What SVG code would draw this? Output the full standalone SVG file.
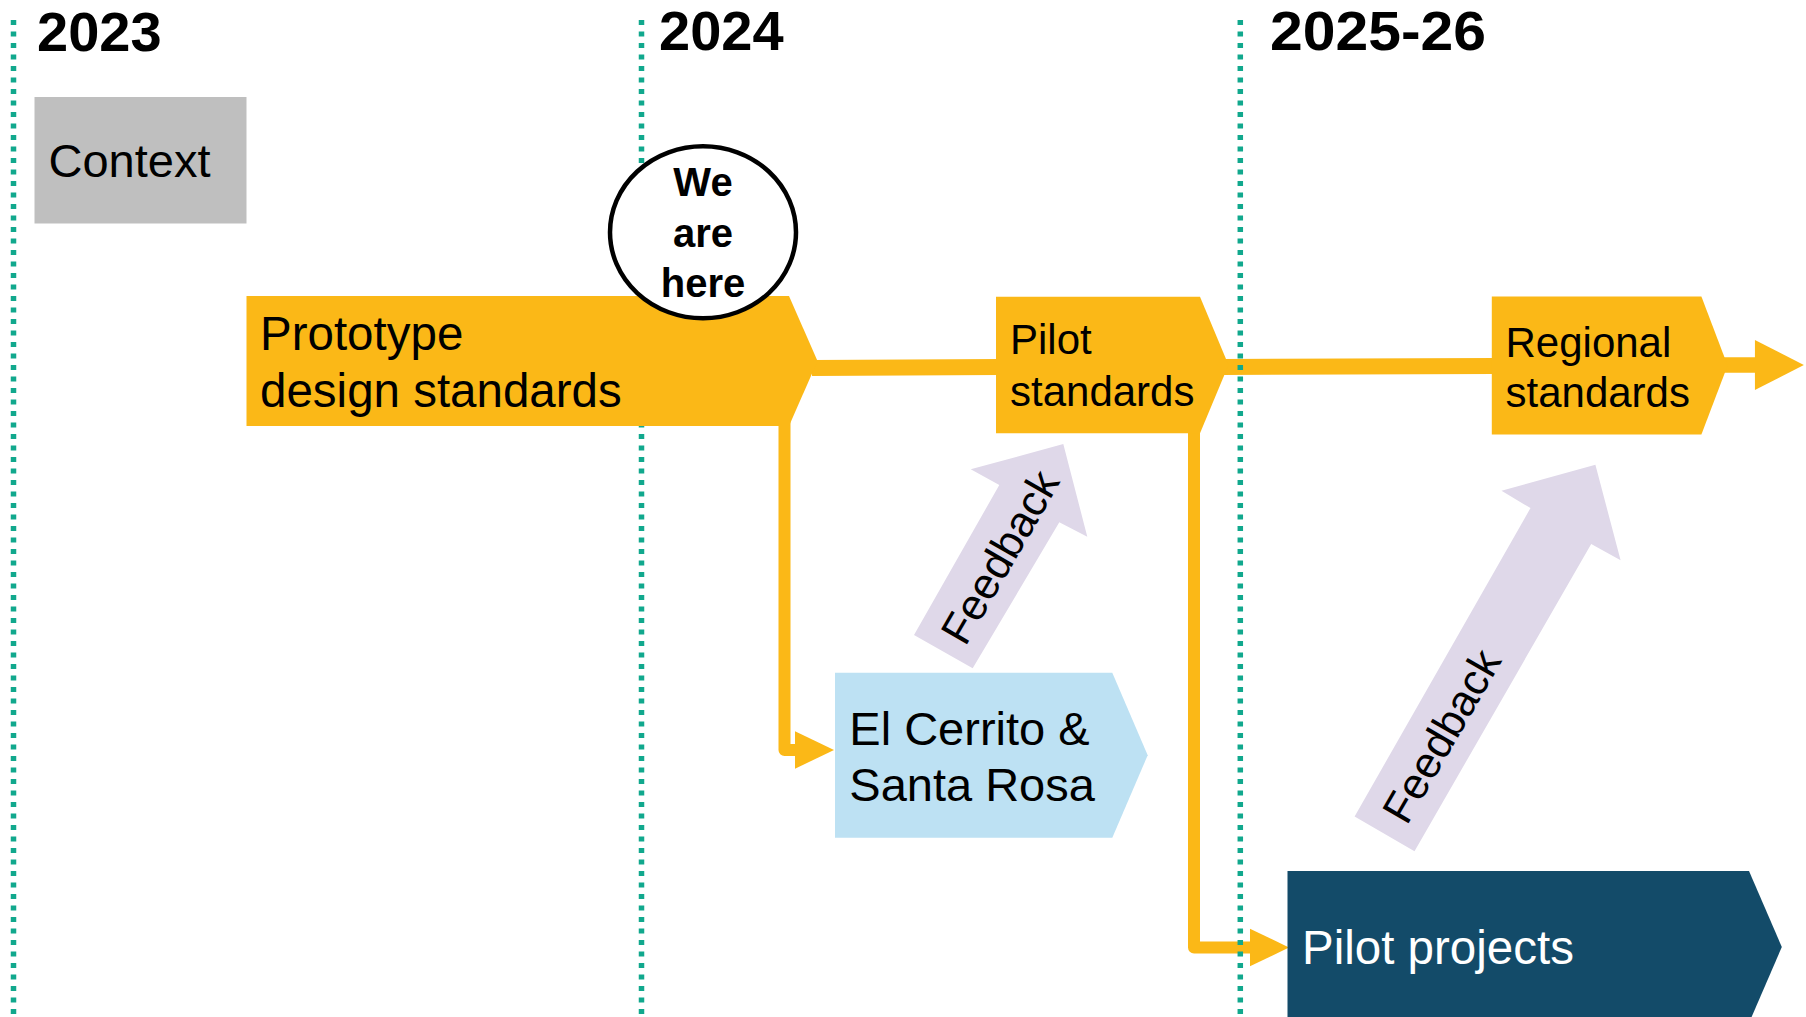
<svg xmlns="http://www.w3.org/2000/svg" width="1806" height="1017" viewBox="0 0 1806 1017">
<style>
.year{font-family:"Liberation Sans",Arial,sans-serif;font-weight:bold;font-size:56px;fill:#000}
.lbl{font-family:"Liberation Sans",Arial,sans-serif;fill:#000}
.grid{stroke:#11A88D;stroke-width:5.5;stroke-dasharray:5 6.5;fill:none}
.flow{stroke:#FBB817;fill:none;stroke-linejoin:round}
.yel{fill:#FBB817}
.fb{fill:#DFD8E9}
</style>
<defs>
<marker id="ah-s" markerUnits="userSpaceOnUse" markerWidth="40" markerHeight="40" refX="5" refY="17.5" orient="auto" viewBox="0 0 37 35">
<path d="M0,0 L36.5,17.5 L0,35 z" fill="#FBB817"/>
</marker>
<marker id="ah-l" markerUnits="userSpaceOnUse" markerWidth="50" markerHeight="50" refX="2" refY="24" orient="auto" viewBox="0 0 47 48">
<path d="M0,0 L47,24 L0,48 z" fill="#FBB817"/>
</marker>
</defs>
<rect width="1806" height="1017" fill="#fff"/>

<g id="connectors">
<line class="flow" x1="812" y1="368" x2="1000" y2="367" stroke-width="16"/>
<line class="flow" x1="1222" y1="367" x2="1495" y2="366" stroke-width="16"/>
<line class="flow" x1="1722" y1="365" x2="1757" y2="365" stroke-width="15.5" marker-end="url(#ah-l)"/>
<path class="flow" d="M784.5,420 V750 H800" stroke-width="12" marker-end="url(#ah-s)"/>
<path class="flow" d="M1194,428 V947.5 H1255" stroke-width="12" marker-end="url(#ah-s)"/>
</g>

<g id="timeline">
<line class="grid" x1="13.5" y1="20" x2="13.5" y2="1017"/>
<line class="grid" x1="641.5" y1="20" x2="641.5" y2="1017"/>
<line class="grid" x1="1240.3" y1="20" x2="1240.3" y2="1017"/>
<text class="year" x="37" y="51">2023</text>
<text class="year" x="659" y="50">2024</text>
<text class="year" x="1270" y="50" textLength="216" lengthAdjust="spacingAndGlyphs">2025-26</text>
</g>

<g id="context">
<rect x="34.5" y="97" width="212" height="126.5" fill="#BFBFBF"/>
<text class="lbl" x="48.5" y="177" font-size="47">Context</text>
</g>

<g id="prototype">
<polygon class="yel" points="246.5,296 789,296 817.5,361 789,426 246.5,426"/>
<text class="lbl" font-size="47.5"><tspan x="260" y="350">Prototype</tspan><tspan x="260" y="407">design standards</tspan></text>
</g>

<g id="we-are-here">
<ellipse cx="703" cy="232.3" rx="93" ry="86" fill="#fff" stroke="#000" stroke-width="4.5"/>
<text class="lbl" font-size="40" font-weight="bold" text-anchor="middle"><tspan x="703" y="196">We</tspan><tspan x="703" y="247">are</tspan><tspan x="703" y="297">here</tspan></text>
</g>

<g id="pilot-standards">
<polygon class="yel" points="996,296.7 1200,296.7 1228.5,365 1200,433.3 996,433.3"/>
<text class="lbl" font-size="42"><tspan x="1010" y="354">Pilot</tspan><tspan x="1010" y="405.5">standards</tspan></text>
</g>

<g id="regional-standards">
<polygon class="yel" points="1491.8,296.6 1701.4,296.6 1727.6,365.6 1701.4,434.6 1491.8,434.6"/>
<text class="lbl" font-size="42"><tspan x="1505.5" y="356.5">Regional</tspan><tspan x="1505.5" y="406.8">standards</tspan></text>
</g>

<g id="feedback-1">
<polygon class="fb" points="914,635 972.7,668.3 1059.3,522.3 1087.3,536.7 1063.3,444 970.7,469.3 999.3,485"/>
<text class="lbl" font-size="43.5" text-anchor="middle" dominant-baseline="central" transform="translate(1000,557) rotate(-60)">Feedback</text>
</g>

<g id="feedback-2">
<polygon class="fb" points="1354.6,816.5 1414.5,851.3 1591.2,544 1620.6,560.2 1595.4,464.8 1501.5,490.7 1530.5,508.1"/>
<text class="lbl" font-size="43.5" text-anchor="middle" dominant-baseline="central" transform="translate(1441.6,736) rotate(-60)">Feedback</text>
</g>

<g id="el-cerrito">
<polygon points="835,672.7 1112.3,672.7 1147.7,755.2 1112.3,837.7 835,837.7" fill="#BDE1F3"/>
<text class="lbl" font-size="47"><tspan x="849.3" y="745">El Cerrito &amp;</tspan><tspan x="849.3" y="801">Santa Rosa</tspan></text>
</g>

<g id="pilot-projects">
<polygon points="1287.5,871 1749,871 1781.8,947 1749,1023 1287.5,1023" fill="#134B69"/>
<text class="lbl" x="1302" y="964" font-size="47.5" style="fill:#fff">Pilot projects</text>
</g>
</svg>
